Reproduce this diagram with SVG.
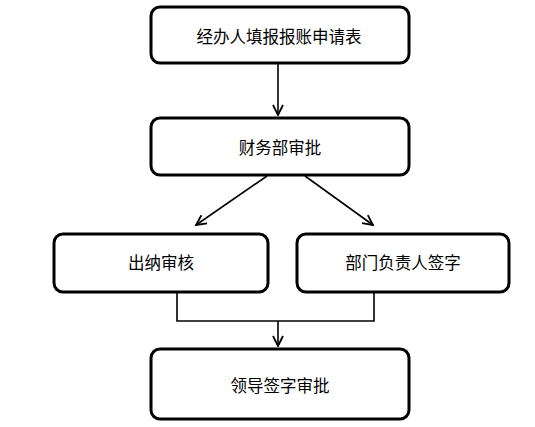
<svg xmlns="http://www.w3.org/2000/svg" width="535" height="427" viewBox="0 0 535 427">
<style>
.box{fill:#fff;stroke:#000;stroke-width:3}
.lbl{font-family:"Noto Sans CJK SC","Liberation Sans",sans-serif;font-size:16.5px;fill:#000;text-anchor:middle;dominant-baseline:central}
.ln{fill:none;stroke:#000;stroke-width:1.6}
</style>
<defs>
<marker id="arr" viewBox="0 0 12 12" refX="11" refY="6" markerWidth="12" markerHeight="12" markerUnits="userSpaceOnUse" orient="auto">
<path d="M1,1 L11,6 L1,11" fill="none" stroke="#000" stroke-width="1.8"/>
</marker>
</defs>
<rect width="535" height="427" fill="#fff"/>
<g id="connectors">
<line class="ln" x1="278" y1="64" x2="278" y2="115" marker-end="url(#arr)"/>
<line class="ln" x1="267" y1="176" x2="196" y2="225" marker-end="url(#arr)"/>
<line class="ln" x1="305" y1="176" x2="373" y2="225" marker-end="url(#arr)"/>
<polyline class="ln" points="177,293 177,321 374,321 374,293"/>
<line class="ln" x1="278" y1="321" x2="278" y2="346" marker-end="url(#arr)"/>
</g>
<g id="n1"><rect class="box" x="151" y="7" width="258" height="56" rx="9"/><text class="lbl" x="279" y="36">经办人填报报账申请表</text></g>
<g id="n2"><rect class="box" x="151" y="118" width="258" height="57" rx="9"/><text class="lbl" x="280" y="147">财务部审批</text></g>
<g id="n3"><rect class="box" x="54" y="234" width="214" height="58" rx="9"/><text class="lbl" x="161" y="262">出纳审核</text></g>
<g id="n4"><rect class="box" x="297" y="234" width="212" height="58" rx="9"/><text class="lbl" x="403" y="262">部门负责人签字</text></g>
<g id="n5"><rect class="box" x="151" y="349" width="258" height="70" rx="9"/><text class="lbl" x="280" y="385">领导签字审批</text></g>
</svg>
